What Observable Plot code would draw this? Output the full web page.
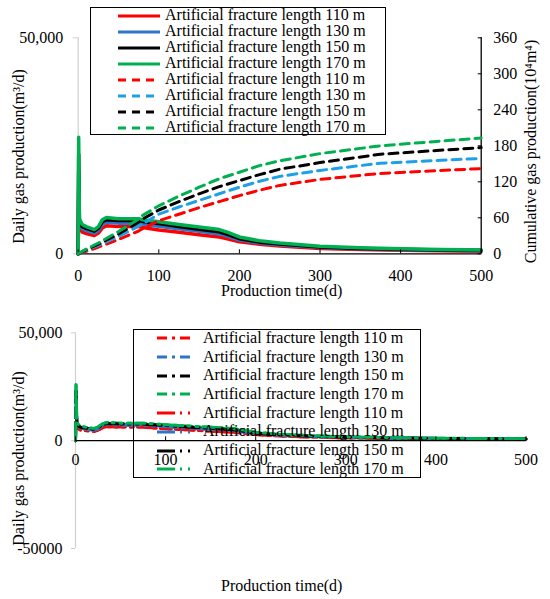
<!DOCTYPE html>
<html><head><meta charset="utf-8">
<script src="https://cdn.jsdelivr.net/npm/d3@7"></script>
<script src="https://cdn.jsdelivr.net/npm/@observablehq/plot@0.6"></script>
<style>
body{margin:0;background:#fff;}
#wrap{position:relative;width:550px;height:599px;font-family:"Liberation Serif","Times New Roman",serif;color:#000;}
#wrap svg.layer{position:absolute;left:0;}
#wrap svg, #wrap svg text, #wrap svg tspan{font-family:"Liberation Serif","Times New Roman",serif !important;font-size:16px;}
.legend{position:absolute;border:1.5px solid #000;box-sizing:border-box;}
.ltext{position:absolute;font-size:16px;line-height:18px;white-space:nowrap;}
</style></head><body><div id="wrap"></div>
<script>
// ---------- data ----------
const lengths = ["110", "130", "150", "170"];
const colorsSolid = ["#ff0000", "#2e75c8", "#000000", "#00b050"];
const colorsDashed = ["#ff0000", "#1ea0e6", "#000000", "#00b050"];

const dailyTime = [0, 0.6, 1.5, 5, 10, 20, 25, 30, 35, 50, 75, 80, 100, 125, 150, 175, 185, 200, 225, 250, 300, 350, 400, 450, 500];
const daily110 = [0, 15000, 6100, 5000, 4700, 4250, 4800, 6000, 6500, 6300, 6300, 6100, 5500, 5000, 4400, 3900, 3500, 2800, 2200, 1800, 1250, 1000, 800, 700, 600];
const daily130 = [0, 19000, 6900, 5800, 5400, 4800, 5400, 6800, 7300, 7100, 7100, 6900, 6400, 5800, 5200, 4600, 4100, 3200, 2500, 2050, 1450, 1150, 950, 800, 700];
const daily150 = [0, 23000, 7400, 6300, 5900, 5250, 5900, 7400, 7900, 7700, 7700, 7500, 7000, 6300, 5700, 5100, 4500, 3500, 2700, 2250, 1600, 1250, 1050, 900, 800];
const daily170 = [0, 27000, 8100, 6800, 6300, 5600, 6300, 7900, 8400, 8100, 8100, 7900, 7400, 6800, 6200, 5600, 5000, 3900, 3000, 2500, 1750, 1400, 1150, 1000, 900];

const cumTime = [0, 10, 25, 50, 75, 80, 100, 125, 150, 175, 200, 225, 250, 300, 375, 500];
const cum110 = [0, 4, 11, 24, 38, 42, 55, 66, 77, 87, 97, 106, 114, 124, 134, 142];
const cum130 = [0, 6, 14, 29, 46, 50, 66, 78, 89, 100, 111, 121, 129, 139, 151, 159];
const cum150 = [0, 7, 16, 33, 53, 58, 73, 87, 100, 112, 122, 132, 141, 152, 166, 177];
const cum170 = [0, 8, 18, 37, 58, 64, 80, 96, 111, 125, 136, 147, 155, 167, 180, 193];

const xTicks = [0, 100, 200, 300, 400, 500];
const leftTicks = [0, 50000];
const rightTicks = [0, 60, 120, 180, 240, 300, 360];
const bottomYTicks = [-50000, 0, 50000];
const bottomYTickLabels = ["-50000", "0", "50,000"];

const dailyTitle = "Daily gas production(m³/d)";
const cumTitle = "Cumulative gas production(10⁴m⁴)";
const xTitle = "Production time(d)";
const legendLabel = l => `Artificial fracture length ${l} m`;

// ---------- build rows ----------
const dailySeries = [daily110, daily130, daily150, daily170];
const cumSeries = [cum110, cum130, cum150, cum170];
const dailyRows = dailySeries.map(vals => vals.map((v, j) => ({t: dailyTime[j], v})));
const cumRows = cumSeries.map(vals => vals.map((v, j) => ({t: cumTime[j], v})));

const dashCum = "9,6";
const dashDot = "10,5,3,5";
const dashDotDot = "18,5,2,6,2,5";

const style = {fontFamily: "'Liberation Serif', 'Times New Roman', serif", fontSize: "16px", color: "#000", background: "transparent", overflow: "visible"};
const wrap = document.getElementById("wrap");

function flipTicks(svg, label, d) {
  svg.querySelectorAll(`g[aria-label="${label}"] path`).forEach(p => p.setAttribute("d", d));
}
const titleOpts = {text: d => d, textAnchor: "middle", lineAnchor: "middle", fill: "#000"};

// ---------- top: daily ----------
const topM = {marginLeft: 77.7, marginRight: 69.3, marginTop: 37.3, marginBottom: 46.7};
const top1 = Plot.plot({
  width: 550, height: 300, ...topM, style,
  x: {domain: [0, 500]},
  y: {domain: [0, 50000]},
  marks: [
    Plot.ruleX([0], {stroke: "#d0d0d0", strokeWidth: 1.2}),
    Plot.axisY({ticks: leftTicks, tickFormat: d3.format(","), tickSize: 5, tickPadding: 10, stroke: "#d0d0d0", fill: "#000", label: null}),
    ...dailyRows.map((rows, i) => Plot.line(rows, {x: "t", y: "v", stroke: colorsSolid[i], strokeWidth: 3.5})),
    Plot.ruleY([0], {stroke: "#000", strokeWidth: 1.3}),
    Plot.axisX({ticks: xTicks, tickSize: 4, tickPadding: 12, label: null, stroke: "#000"}),
    Plot.text([dailyTitle], {...titleOpts, frameAnchor: "left", rotate: -90, dx: -59.7, dy: 10.7}),
    Plot.text([xTitle], {...titleOpts, frameAnchor: "bottom", dx: 2, dy: 37})
  ]
});
top1.classList.add("layer"); top1.style.top = "0px";
flipTicks(top1, "x-axis tick", "M0,0L0,-4");
wrap.appendChild(top1);

// ---------- top: cumulative (right axis) ----------
const top2 = Plot.plot({
  width: 550, height: 300, ...topM, style,
  x: {domain: [0, 500], axis: null},
  y: {domain: [0, 360], axis: null},
  marks: [
    Plot.ruleX([500], {stroke: "#000", strokeWidth: 1.3}),
    Plot.axisY({anchor: "right", ticks: rightTicks, tickSize: 4, tickPadding: 8, label: null}),
    ...cumRows.map((rows, i) => Plot.line(rows, {x: "t", y: "v", stroke: colorsDashed[i], strokeWidth: 3, strokeDasharray: dashCum})),
    Plot.text([cumTitle], {...titleOpts, frameAnchor: "right", rotate: -90, dx: 49.3, dy: 5.7})
  ]
});
top2.classList.add("layer"); top2.style.top = "0px";
flipTicks(top2, "y-axis tick", "M0,0L-4,0");
wrap.appendChild(top2);

// ---------- bottom panel ----------
const bot = Plot.plot({
  width: 550, height: 299, marginLeft: 75, marginRight: 24.5, marginTop: 32.3, marginBottom: 51, style,
  x: {domain: [0, 500], axis: null},
  y: {domain: [-50000, 50000]},
  marks: [
    Plot.ruleX([0], {stroke: "#d0d0d0", strokeWidth: 1.2}),
    Plot.axisY({ticks: bottomYTicks, tickFormat: d => bottomYTickLabels[bottomYTicks.indexOf(d)], tickSize: 4, tickPadding: 9, stroke: "#d0d0d0", fill: "#000", label: null}),
    ...dailyRows.map((rows, i) => Plot.line(rows, {x: "t", y: "v", stroke: colorsSolid[i], strokeWidth: 3, strokeDasharray: dashDot})),
    ...dailyRows.map((rows, i) => Plot.line(rows, {x: "t", y: "v", stroke: colorsSolid[i], strokeWidth: 3, strokeDasharray: dashDotDot})),
    Plot.ruleY([0], {stroke: "#000", strokeWidth: 1.3}),
    Plot.ruleX(xTicks, {x: d => d, y1: 0, y2: 1800, stroke: "#000", strokeWidth: 1}),
    Plot.text(xTicks, {x: d => d, y: 0, text: d => String(d), dy: 19, lineAnchor: "middle", fill: "#000"}),
    Plot.text([dailyTitle], {...titleOpts, frameAnchor: "left", rotate: -90, dx: -57, dy: 17.8}),
    Plot.text([xTitle], {...titleOpts, frameAnchor: "bottom", dx: -19, dy: 37})
  ]
});
bot.classList.add("layer"); bot.style.top = "300px";
wrap.appendChild(bot);

// ---------- legends (HTML overlays) ----------
function legend(box, items, o) {
  const b = document.createElement("div");
  b.className = "legend";
  Object.assign(b.style, {left: box.x + "px", top: box.y + "px", width: box.w + "px", height: box.h + "px", background: o.bg});
  wrap.appendChild(b);
  items.forEach((it, i) => {
    const cy = o.y0 + i * o.step;
    const s = document.createElementNS("http://www.w3.org/2000/svg", "svg");
    s.setAttribute("width", o.sw); s.setAttribute("height", 10);
    s.style.position = "absolute"; s.style.left = o.sx + "px"; s.style.top = (cy - 5) + "px";
    s.innerHTML = `<line x1="0" x2="${o.sw}" y1="5" y2="5" stroke="${it.color}" stroke-width="3" ${it.dash ? `stroke-dasharray="${it.dash}"` : ""}/>`;
    wrap.appendChild(s);
    const t = document.createElement("div");
    t.className = "ltext";
    t.textContent = it.label;
    t.style.left = o.tx + "px"; t.style.top = (cy - 9.5) + "px";
    wrap.appendChild(t);
  });
}

legend({x: 90, y: 7, w: 296, h: 128},
  [...lengths.map((l, i) => ({label: legendLabel(l), color: colorsSolid[i], dash: null})),
   ...lengths.map((l, i) => ({label: legendLabel(l), color: colorsDashed[i], dash: "8,6"}))],
  {bg: "#fff", y0: 15.7, step: 16, sx: 118, sw: 42, tx: 165});

legend({x: 133, y: 329, w: 288, h: 149},
  [...lengths.map((l, i) => ({label: legendLabel(l), color: colorsSolid[i], dash: dashDot})),
   ...lengths.map((l, i) => ({label: legendLabel(l), color: colorsSolid[i], dash: dashDotDot}))],
  {bg: "transparent", y0: 338.3, step: 18.7, sx: 157, sw: 36, tx: 203});
</script></body></html>
